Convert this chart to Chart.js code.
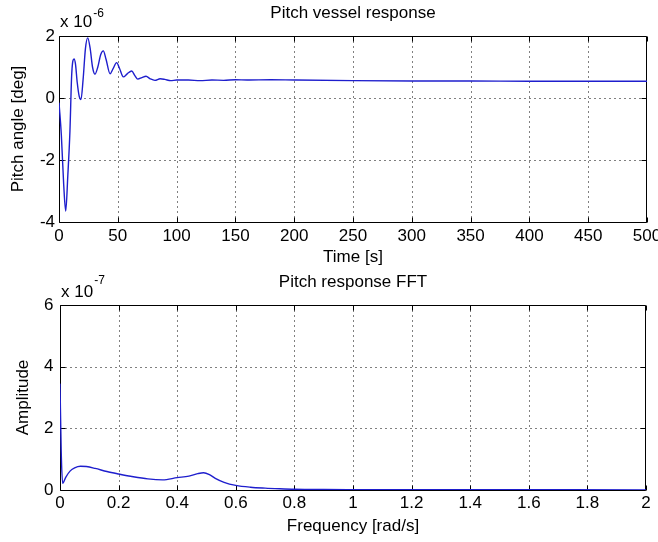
<!DOCTYPE html>
<html>
<head>
<meta charset="utf-8">
<title>Pitch vessel response</title>
<script src="https://cdn.jsdelivr.net/npm/chart.js@4.4.0/dist/chart.umd.min.js"></script>
<style>
  html, body { margin: 0; padding: 0; background: #fff; }
  #wrap { position: relative; width: 658px; height: 542px; overflow: hidden; }
  canvas { position: absolute; left: 0; display: block; }
  #pitchChart { top: 0; }
  #fftChart { top: 270px; }
</style>
</head>
<body>
<div id="wrap">
  <canvas id="pitchChart" width="658" height="270"></canvas>
  <canvas id="fftChart" width="658" height="272"></canvas>
</div>
<script>
// pitch response, angle in units of 1e-6 deg
var timeSec = [0, 2, 4, 5.7, 7.5, 9.3, 10.8, 12.8, 14, 15.5, 17.2, 18.7, 20.5, 22.5, 24.4, 26.5,
  28.5, 30.6, 33, 35.5, 37.7, 40, 43.4, 46, 49, 51.5, 54.7, 58, 61.8, 64.5, 67, 70.5, 74,
  77.5, 81.6, 86, 90, 95, 100, 110, 120, 130, 140, 150, 160, 180, 200, 250, 300, 350, 400, 450, 500];
var pitchAngle = [-0.15, -1.2, -2.8, -3.65, -2.5, -1.07, 0.76, 1.26, 1.1, 0.5, 0.05, -0.05, 0.6, 1.6, 1.94, 1.6,
  1.0, 0.77, 1.0, 1.4, 1.52, 1.25, 0.78, 0.95, 1.14, 0.95, 0.68, 0.78, 0.87, 0.72, 0.61, 0.66, 0.70,
  0.62, 0.57, 0.62, 0.60, 0.56, 0.58, 0.58, 0.56, 0.58, 0.57, 0.59, 0.58, 0.59, 0.58, 0.56, 0.55, 0.55, 0.54, 0.54, 0.54];
var timeTicks = [0, 50, 100, 150, 200, 250, 300, 350, 400, 450, 500];
var pitchTicks = [-4, -2, 0, 2];

// FFT of the pitch response, amplitude in units of 1e-7
var freqRad = [0, 0.004, 0.009, 0.02, 0.035, 0.05, 0.07, 0.09, 0.12, 0.16, 0.2, 0.25, 0.3, 0.35,
  0.4, 0.44, 0.47, 0.49, 0.51, 0.53, 0.56, 0.6, 0.65, 0.7, 0.75, 0.8, 0.9, 1.0, 1.5, 2.0];
var amplitude = [3.45, 1.3, 0.22, 0.42, 0.62, 0.72, 0.77, 0.76, 0.70, 0.60, 0.52, 0.43, 0.36, 0.33,
  0.40, 0.45, 0.53, 0.56, 0.50, 0.38, 0.25, 0.15, 0.09, 0.06, 0.04, 0.025, 0.015, 0.012, 0.008, 0.005];
var freqTicks = [0, 0.2, 0.4, 0.6, 0.8, 1, 1.2, 1.4, 1.6, 1.8, 2];
var ampTicks = [0, 2, 4, 6];

Chart.defaults.font.family = "'Liberation Sans', Arial, sans-serif";
Chart.defaults.font.size = 17;
Chart.defaults.color = '#000';

function px(v) { return Math.round(v) + 0.5; }

// matlab style box: dotted grid, inward tick marks, "x 10^n" multiplier
var matlabAxes = {
  id: 'matlabAxes',
  beforeDatasetsDraw: function (chart, args, opts) {
    var ctx = chart.ctx, a = chart.chartArea;
    var sx = chart.scales.x, sy = chart.scales.y;
    var L = px(a.left), R = px(a.right) - 1, T = px(a.top), B = px(a.bottom);
    ctx.save();
    ctx.strokeStyle = '#000';
    ctx.lineWidth = 1;
    ctx.setLineDash([1, 4]);
    ctx.beginPath();
    sx.ticks.forEach(function (t) {
      var x = px(sx.getPixelForValue(t.value));
      if (x <= L + 1 || x >= R - 1) return;
      ctx.moveTo(x, T); ctx.lineTo(x, B);
    });
    sy.ticks.forEach(function (t) {
      var y = px(sy.getPixelForValue(t.value));
      if (y <= T + 1 || y >= B - 1) return;
      ctx.moveTo(L, y); ctx.lineTo(R, y);
    });
    ctx.stroke();
    ctx.setLineDash([]);
    ctx.beginPath();
    var len = 5;
    sx.ticks.forEach(function (t) {
      var x = px(sx.getPixelForValue(t.value));
      ctx.moveTo(x, B); ctx.lineTo(x, B - len);
      ctx.moveTo(x, T); ctx.lineTo(x, T + len);
    });
    sy.ticks.forEach(function (t) {
      var y = px(sy.getPixelForValue(t.value));
      ctx.moveTo(L, y); ctx.lineTo(L + len, y);
      ctx.moveTo(R, y); ctx.lineTo(R - len, y);
    });
    ctx.rect(L, T, R - L, B - T);
    ctx.stroke();
    ctx.restore();
  },
  afterDraw: function (chart, args, opts) {
    var ctx = chart.ctx, a = chart.chartArea;
    ctx.save();
    ctx.fillStyle = '#000';
    ctx.textBaseline = 'alphabetic';
    ctx.font = "17px 'Liberation Sans', Arial, sans-serif";
    ctx.fillText('x 10', a.left + 1, opts.baseY);
    var w = ctx.measureText('x 10').width;
    ctx.font = "12px 'Liberation Sans', Arial, sans-serif";
    ctx.fillText(opts.exponent, a.left + 1 + w + 1, opts.supY);
    ctx.restore();
  }
};

function makeChart(id, cfg) {
  var points = cfg.xs.map(function (x, i) { return { x: x, y: cfg.ys[i] }; });
  return new Chart(document.getElementById(id), {
    type: 'line',
    data: {
      datasets: [{
        data: points,
        borderColor: 'rgb(30, 30, 205)',
        borderWidth: 1.4,
        pointRadius: 0,
        fill: false,
        cubicInterpolationMode: 'monotone'
      }]
    },
    options: {
      responsive: false,
      animation: false,
      events: [],
      layout: { padding: { left: 0, right: cfg.padRight, top: 0, bottom: 0 } },
      plugins: {
        legend: { display: false },
        tooltip: { enabled: false },
        title: {
          display: true,
          fullSize: false,
          text: cfg.title,
          color: '#000',
          font: { size: 17, weight: 'normal' },
          padding: cfg.titlePad
        },
        matlabAxes: { exponent: cfg.exponent, baseY: cfg.expBase, supY: cfg.expSup }
      },
      scales: {
        x: {
          type: 'linear',
          min: cfg.xTicks[0],
          max: cfg.xTicks[cfg.xTicks.length - 1],
          afterBuildTicks: function (s) { s.ticks = cfg.xTicks.map(function (v) { return { value: v }; }); },
          afterFit: function (s) { s.height = cfg.xAxisHeight; s.paddingLeft = 0; s.paddingRight = 0; },
          grid: { display: false, drawTicks: false },
          border: { display: false },
          ticks: {
            padding: cfg.xTickPad,
            maxRotation: 0,
            autoSkip: false,
            callback: function (v) { return String(+v.toFixed(1)); }
          },
          title: { display: true, text: cfg.xLabel, padding: { top: 0, bottom: cfg.xLabelPad } }
        },
        y: {
          type: 'linear',
          min: cfg.yTicks[0],
          max: cfg.yTicks[cfg.yTicks.length - 1],
          afterBuildTicks: function (s) { s.ticks = cfg.yTicks.map(function (v) { return { value: v }; }); },
          afterFit: function (s) { s.width = cfg.yAxisWidth; s.paddingTop = 0; s.paddingBottom = 0; },
          grid: { display: false, drawTicks: false },
          border: { display: false },
          ticks: { padding: cfg.yTickPad, autoSkip: false },
          title: { display: true, text: cfg.yLabel, padding: { top: cfg.yLabelPad, bottom: 0 } }
        }
      }
    },
    plugins: [matlabAxes]
  });
}

makeChart('pitchChart', {
  xs: timeSec, ys: pitchAngle, xTicks: timeTicks, yTicks: pitchTicks,
  title: 'Pitch vessel response', titlePad: { top: 3.5, bottom: 12.1 },
  xLabel: 'Time [s]', yLabel: 'Pitch angle [deg]',
  padRight: 11, xAxisHeight: 48, yAxisWidth: 59,
  xTickPad: 4.5, yTickPad: 4, xLabelPad: 2.3, yLabelPad: 8.5,
  exponent: '-6', expBase: 27, expSup: 16.5
});

makeChart('fftChart', {
  xs: freqRad, ys: amplitude, xTicks: freqTicks, yTicks: ampTicks,
  title: 'Pitch response FFT', titlePad: { top: 1.8, bottom: 12.8 },
  xLabel: 'Frequency [rad/s]', yLabel: 'Amplitude',
  padRight: 12, xAxisHeight: 52, yAxisWidth: 60,
  xTickPad: 3, yTickPad: 6.5, xLabelPad: 5, yLabelPad: 13.5,
  exponent: '-7', expBase: 26.7, expSup: 13.5
});
</script>
</body>
</html>
